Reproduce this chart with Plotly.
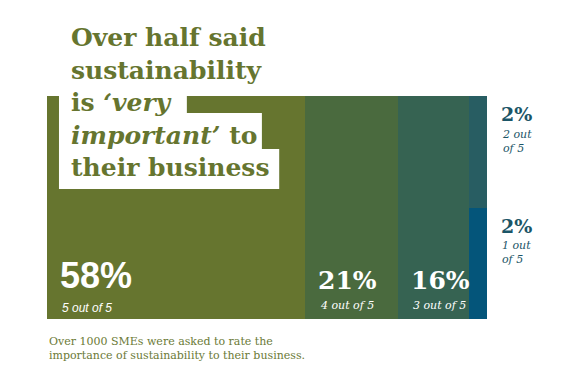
import plotly.graph_objects as go

# ---- data ----
shares = [58, 21, 16, 2, 2]                      # percent of SMEs
share_labels = ["58%", "21%", "16%", "2%", "2%"]
ratings = ["5 out of 5", "4 out of 5", "3 out of 5", "2 out<br>of 5", "1 out<br>of 5"]
columns = [0, 1, 2, 3, 3]                         # segments 4 and 5 share one column
colors = ["#66752F", "#4A6A3E", "#366352", "#285D62", "#04557A"]

title_lines = ["Over half said", "sustainability", "is <i>‘very</i>", "<i>important’</i> to", "their business"]
footnote = "Over 1000 SMEs were asked to rate the<br>importance of sustainability to their business."

# ---- geometry derived from data (marimekko) ----
col_width = {}
for c, v in zip(columns, shares):
    col_width[c] = col_width.get(c, 0) + v
col_left = {}
acc = 0
for c in sorted(col_width):
    col_left[c] = acc
    acc += col_width[c]

xs, ws, ys, bases = [], [], [], []
stack_top = {c: 1.0 for c in col_width}
for c, v in zip(columns, shares):
    h = v / col_width[c]
    xs.append(col_left[c] + col_width[c] / 2)
    ws.append(col_width[c])
    ys.append(h)
    bases.append(stack_top[c] - h)
    stack_top[c] -= h

fig = go.Figure(go.Bar(
    x=xs, y=ys, width=ws, base=bases,
    marker=dict(color=colors, line=dict(width=0)),
    hoverinfo="skip",
))

annotations = []
for i, (c, lab, sub) in enumerate(zip(columns, share_labels, ratings)):
    if columns.count(c) == 1:
        big = i == 0
        annotations.append(dict(
            x=col_left[c], y=bases[i], xref="x", yref="y", xanchor="left", yanchor="middle",
            xshift=(11 if big else 11), yshift=(44 if big else 39), text=lab, showarrow=False,
            font=dict(family=("Liberation Sans" if big else "DejaVu Serif"),
                      size=(36 if big else 25), color="white", weight="bold"),
        ))
        annotations.append(dict(
            x=col_left[c], y=bases[i], xref="x", yref="y", xanchor="left", yanchor="middle",
            xshift=13, yshift=(11 if big else 14), text="<i>" + sub + "</i>", showarrow=False,
            font=dict(family=("Liberation Sans" if big else "DejaVu Serif"),
                      size=(12 if big else 11), color="white"),
        ))
    else:
        right = col_left[c] + col_width[c]
        top = bases[i] + ys[i]
        annotations.append(dict(
            x=right, y=top, xref="x", yref="y", xanchor="left", yanchor="middle",
            xshift=12, yshift=-18, text=lab, showarrow=False,
            font=dict(family="DejaVu Serif", size=19, color="#1B5567", weight="bold"),
        ))
        annotations.append(dict(
            x=right, y=top, xref="x", yref="y", xanchor="left", yanchor="middle",
            xshift=13, yshift=-45, text="<i>" + sub + "</i>", showarrow=False, align="left",
            font=dict(family="DejaVu Serif", size=11, color="#1B5567"),
        ))

# title
annotations.append(dict(
    x=0.05, y=1.0, xref="paper", yref="paper", xanchor="left", yanchor="bottom",
    yshift=-88, text="<br>".join(title_lines), showarrow=False, align="left",
    font=dict(family="DejaVu Serif", size=25, color="#66752F", weight="bold"),
))
# footnote
annotations.append(dict(
    x=0.0, y=0.0, xref="paper", yref="paper", xanchor="left", yanchor="top",
    yshift=-14, text=footnote, showarrow=False, align="left",
    font=dict(family="DejaVu Serif", size=11, color="#6B7A36"),
))

# white stepped panel behind the title (decorative)
shapes = [
    dict(type="rect", xref="x", yref="y", x0=2.7, x1=31.5, y0=0.583, y1=1.0,
         fillcolor="white", line=dict(width=0), layer="above"),
    dict(type="rect", xref="x", yref="y", x0=2.7, x1=48.4, y0=0.583, y1=0.924,
         fillcolor="white", line=dict(width=0), layer="above"),
    dict(type="rect", xref="x", yref="y", x0=2.7, x1=52.3, y0=0.583, y1=0.762,
         fillcolor="white", line=dict(width=0), layer="above"),
]

fig.update_layout(
    width=576, height=384,
    margin=dict(l=39, r=93, t=88, b=73),
    paper_bgcolor="white", plot_bgcolor="white",
    showlegend=False, bargap=0,
    xaxis=dict(range=[0, 100], visible=False, fixedrange=True),
    yaxis=dict(range=[0, 1], visible=False, fixedrange=True),
    annotations=annotations, shapes=shapes,
)

fig.write_html("out.html")
